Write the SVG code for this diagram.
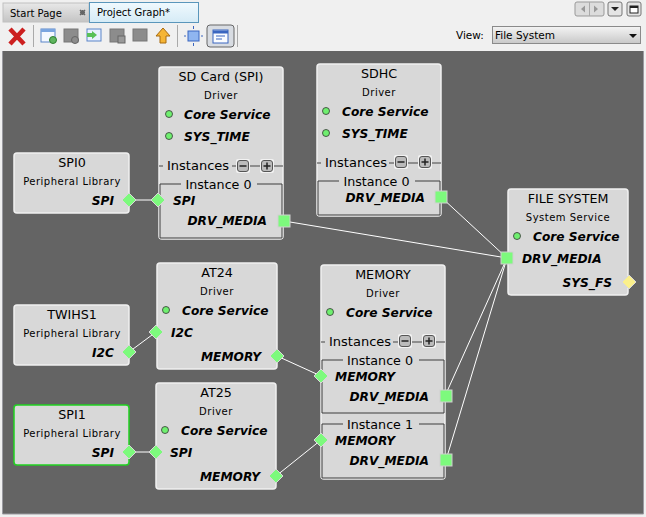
<svg xmlns="http://www.w3.org/2000/svg" width="646" height="517" viewBox="0 0 646 517">
<style>
text{font-family:"DejaVu Sans","Liberation Sans",sans-serif;fill:#000}
.t{font-size:12.7px;text-anchor:middle}
.s{font-size:10px;letter-spacing:.5px;text-anchor:middle}
.p{font-size:12.2px;font-weight:bold;font-style:italic}
.e{text-anchor:end}
.i{font-size:13px}
.n{fill:#d8d8d8;stroke:#f0f0f0;stroke-width:1.5}
.o{fill:none;stroke:#3c3c3c;stroke-width:1}
.c{fill:#6fef6f;stroke:#333;stroke-width:.8}
.d{fill:#7dfa7d;stroke:#d8d8d8;stroke-width:1}
.q{fill:#7dfa7d;stroke:#d0d0d0;stroke-width:1}
.l{stroke:#fff;stroke-width:1;fill:none}
</style>
<defs>
<g id="dia"><polygon points="0,-7 7,0 0,7 -7,0" class="d"/></g>
<g id="sq"><rect x="-6" y="-6" width="12" height="12" class="q"/></g>
<g id="minus"><rect x="-7" y="-7" width="14" height="14" rx="2" fill="#f2f2f2"/><rect x="-5.500" y="-5.500" width="11" height="11" rx="2.500" fill="#bbb" stroke="#555"/><path d="M-3.500 0H3.500" stroke="#222" stroke-width="1.500"/></g>
<g id="plus"><rect x="-7" y="-7" width="14" height="14" rx="2" fill="#f2f2f2"/><rect x="-5.500" y="-5.500" width="11" height="11" rx="2.500" fill="#bbb" stroke="#555"/><path d="M-3.500 0H3.500M0-3.500V3.500" stroke="#222" stroke-width="1.500"/></g>
<linearGradient id="tabg" x1="0" y1="0" x2="0" y2="1"><stop offset="0" stop-color="#f0f9fe"/><stop offset="1" stop-color="#d5ebf6"/></linearGradient>
<linearGradient id="tabh" x1="0" y1="0" x2="0" y2="1"><stop offset="0" stop-color="#e8e8e8"/><stop offset="1" stop-color="#c4c4c4"/></linearGradient>
<linearGradient id="combo" x1="0" y1="0" x2="0" y2="1"><stop offset="0" stop-color="#f4f4f4"/><stop offset="1" stop-color="#c8c8c8"/></linearGradient>
</defs>

<rect width="646" height="517" fill="#f0f0f0"/>
<rect x="2" y="51" width="642" height="463" fill="#646464"/>
<path d="M2.500 51V514H643.500V51" fill="none" stroke="#9a9aa0"/>

<g id="tabs">
<rect x="3" y="3" width="86" height="19" fill="url(#tabh)" stroke="#c0c0c0"/>
<text x="10" y="16.500" style="font-size:10px">Start Page</text>
<path d="M80 10l5 5M85 10l-5 5M80 12.500h5M82.500 10v5" stroke="#666" stroke-width="1.500"/>
<rect x="89.500" y="2.500" width="109" height="20" fill="url(#tabg)" stroke="#5a96bb"/>
<text x="97" y="16" style="font-size:10px">Project Graph*</text>
<rect x="575" y="2" width="29" height="14" rx="2" fill="#dcdcdc" stroke="#999"/>
<path d="M589.500 2V16" stroke="#aaa"/>
<path d="M585 5.500L581 9L585 12.500ZM594 5.500L598 9L594 12.500Z" fill="#999"/>
<rect x="608" y="2" width="14" height="14" rx="2" fill="#e4e4e4" stroke="#777"/>
<path d="M611 7H619L615 11Z" fill="#222"/>
<rect x="627" y="2" width="14" height="14" rx="2" fill="#e4e4e4" stroke="#777"/>
<rect x="630" y="6" width="8" height="7" fill="#fff" stroke="#222"/>
<path d="M630 7H638" stroke="#222" stroke-width="2"/>
</g>

<g id="toolbar">
<path d="M10 29L24 44M24 29L10 44" stroke="#cc1f1f" stroke-width="4.500"/>
<path d="M33.500 25V47M177.500 25V47M237.500 25V47" stroke="#aaa"/>
<rect x="41" y="29" width="14" height="13" fill="#f4f8ff" stroke="#5b85c8"/><rect x="41" y="29" width="14" height="3" fill="#7aa5e0"/><circle cx="53" cy="40" r="3.500" fill="#5fb55f" stroke="#2f7f2f"/>
<rect x="64" y="29" width="14" height="13" fill="#8c8c8c" stroke="#777"/><circle cx="75" cy="40" r="3.500" fill="#8c8c8c" stroke="#666"/>
<rect x="87" y="29" width="14" height="12" fill="#e8f0ff" stroke="#5b85c8"/><path d="M87 33H92V31L97 35L92 39V37H87Z" fill="#58c058"/>
<rect x="110" y="29" width="14" height="13" fill="#8c8c8c" stroke="#777"/><rect x="118" y="36" width="7" height="7" fill="#999" stroke="#666"/>
<rect x="133" y="29" width="14" height="12" fill="#8c8c8c" stroke="#777"/>
<path d="M163 28L170 36H166V43H160V36H156Z" fill="#f5b535" stroke="#a86a10"/>
<rect x="188" y="31" width="11" height="10" fill="#8fb5f0" stroke="#3a66c0"/><path d="M193.500 26V29M193.500 43V46M184 36H186M201 36H203" stroke="#3a66c0"/>
<rect x="207" y="25" width="27" height="22" rx="3" fill="#d8dce2" stroke="#666"/>
<rect x="213" y="30" width="15" height="13" fill="#fafcff" stroke="#3a66c0"/><path d="M213 32H228" stroke="#3a66c0" stroke-width="3"/><path d="M216 36H225M216 39H222" stroke="#3a66c0"/>
<text x="456" y="39" style="font-size:10.500px">View:</text>
<rect x="492.500" y="26.500" width="148" height="17" fill="url(#combo)" stroke="#8a8a8a"/>
<text x="495" y="39" style="font-size:10.500px">File System</text>
<path d="M629 34H637L633 38Z" fill="#111"/>
</g>

<g id="connectors" class="l">
<path d="M129 200H158"/>
<path d="M129 452H156"/>
<path d="M129 352L156 332"/>
<path d="M277 356L321 376"/>
<path d="M276 476L321 440"/>
<path d="M284 221L507 258"/>
<path d="M441 197L507 258"/>
<path d="M445 396L507 258"/>
<path d="M446 460L507 258"/>
</g>

<g id="sdcard">
<rect x="159" y="67" width="124" height="172" rx="3" class="n"/>
<text x="221" y="81" class="t">SD Card (SPI)</text><text x="221" y="99" class="s">Driver</text>
<circle cx="169" cy="114" r="3.500" class="c"/><text x="184" y="119" class="p">Core Service</text>
<circle cx="169" cy="136" r="3.500" class="c"/><text x="184" y="141" class="p">SYS_TIME</text>
<path d="M159 166H163M232 166H236M250 166H260M274 166H283" stroke="#444"/>
<text x="167" y="170" class="i">Instances</text>
<use href="#minus" x="243" y="166"/><use href="#plus" x="267" y="166"/>
<path d="M181 184H160V238H282V184H257" class="o"/>
<text x="218.500" y="189" class="t">Instance 0</text>
<text x="173" y="205" class="p">SPI</text><text x="267" y="225" class="p e">DRV_MEDIA</text>
<use href="#dia" x="158" y="200"/><use href="#sq" x="284" y="221"/>
</g>

<g id="sdhc">
<rect x="317" y="64" width="124" height="152" rx="3" class="n"/>
<text x="379" y="78" class="t">SDHC</text><text x="379" y="96" class="s">Driver</text>
<circle cx="326" cy="111" r="3.500" class="c"/><text x="342" y="116" class="p">Core Service</text>
<circle cx="326" cy="133" r="3.500" class="c"/><text x="342" y="138" class="p">SYS_TIME</text>
<path d="M317 163H321M389 163H394M408 163H418M432 163H441" stroke="#444"/>
<text x="325" y="167" class="i">Instances</text>
<use href="#minus" x="401" y="162"/><use href="#plus" x="425" y="162"/>
<path d="M339 181H318V215H440V181H415" class="o"/>
<text x="376.500" y="186" class="t">Instance 0</text>
<text x="425" y="202" class="p e">DRV_MEDIA</text>
<use href="#sq" x="441" y="197"/>
</g>

<g id="spi0">
<rect x="14" y="153" width="115" height="60" rx="3" class="n"/>
<text x="72" y="167" class="t">SPI0</text><text x="72" y="185" class="s">Peripheral Library</text>
<text x="114" y="205" class="p e">SPI</text><use href="#dia" x="129" y="200"/>
</g>

<g id="filesystem">
<rect x="508" y="189" width="120" height="106" rx="3" class="n"/>
<text x="568" y="203" class="t">FILE SYSTEM</text><text x="568" y="221" class="s">System Service</text>
<circle cx="517" cy="236" r="3.500" class="c"/><text x="533" y="241" class="p">Core Service</text>
<text x="522" y="263" class="p">DRV_MEDIA</text><text x="612" y="287" class="p e">SYS_FS</text>
<use href="#sq" x="507" y="258"/>
<polygon points="629,275 636,282 629,289 622,282" fill="#fbf08c" stroke="#d8d8d8"/>
</g>

<g id="at24">
<rect x="157" y="263" width="120" height="106" rx="3" class="n"/>
<text x="217" y="277" class="t">AT24</text><text x="217" y="295" class="s">Driver</text>
<circle cx="166" cy="310" r="3.500" class="c"/><text x="182" y="315" class="p">Core Service</text>
<text x="171" y="337" class="p">I2C</text><text x="261" y="361" class="p e">MEMORY</text>
<use href="#dia" x="156" y="332"/><use href="#dia" x="277" y="356"/>
</g>

<g id="twihs1">
<rect x="14" y="305" width="115" height="60" rx="3" class="n"/>
<text x="72" y="319" class="t">TWIHS1</text><text x="72" y="337" class="s">Peripheral Library</text>
<text x="114" y="357" class="p e">I2C</text><use href="#dia" x="129" y="352"/>
</g>

<g id="memory">
<rect x="321" y="265" width="124" height="214" rx="3" class="n"/>
<text x="383" y="279" class="t">MEMORY</text><text x="383" y="297" class="s">Driver</text>
<circle cx="330" cy="312" r="3.500" class="c"/><text x="346" y="317" class="p">Core Service</text>
<path d="M321 342H325M393 342H398M412 342H422M436 342H445" stroke="#444"/>
<text x="329" y="346" class="i">Instances</text>
<use href="#minus" x="405" y="341"/><use href="#plus" x="429" y="341"/>
<path d="M343 360H322V413H444V360H419" class="o"/>
<text x="380" y="365" class="t">Instance 0</text>
<text x="335" y="381" class="p">MEMORY</text><text x="429" y="401" class="p e">DRV_MEDIA</text>
<path d="M343 424H322V478H444V424H419" class="o"/>
<text x="380" y="429" class="t">Instance 1</text>
<text x="335" y="445" class="p">MEMORY</text><text x="429" y="465" class="p e">DRV_MEDIA</text>
<use href="#dia" x="321" y="376"/><use href="#sq" x="446" y="396"/>
<use href="#dia" x="321" y="440"/><use href="#sq" x="446" y="460"/>
</g>

<g id="spi1">
<rect x="14" y="405" width="115" height="60" rx="3" fill="#d8d8d8" stroke="#21d121" stroke-width="1.500"/>
<text x="72" y="419" class="t">SPI1</text><text x="72" y="437" class="s">Peripheral Library</text>
<text x="114" y="457" class="p e">SPI</text><use href="#dia" x="129" y="452"/>
</g>

<g id="at25">
<rect x="156" y="383" width="120" height="106" rx="3" class="n"/>
<text x="216" y="397" class="t">AT25</text><text x="216" y="415" class="s">Driver</text>
<circle cx="165" cy="430" r="3.500" class="c"/><text x="181" y="435" class="p">Core Service</text>
<text x="170" y="457" class="p">SPI</text><text x="260" y="481" class="p e">MEMORY</text>
<use href="#dia" x="156" y="452"/><use href="#dia" x="276" y="476"/>
</g>
</svg>
